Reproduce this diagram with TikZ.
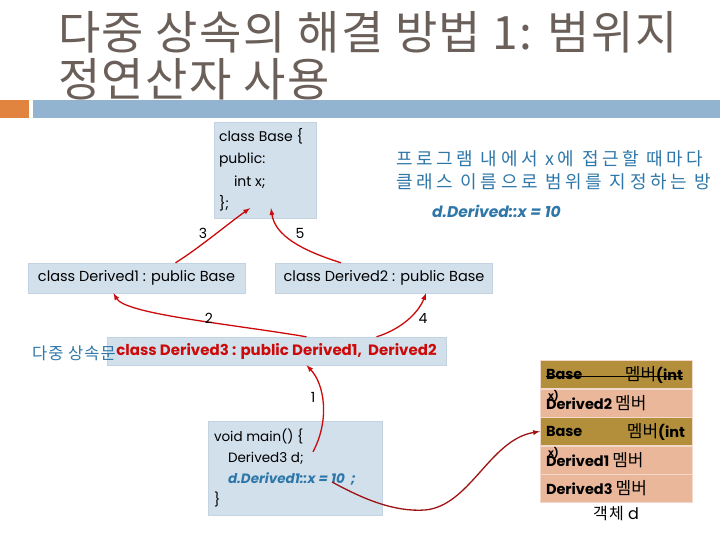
\documentclass[tikz,border=0pt]{standalone}
\usepackage{fontspec}
\usepackage{xcolor}
\setmainfont{Poppins}
\newfontfamily\krfont{Noto Sans CJK KR}
\usetikzlibrary{shapes,arrows,positioning,calc}

\definecolor{titlegray}{HTML}{6B5F5A}
\definecolor{markorange}{HTML}{E0843F}
\definecolor{barblue}{HTML}{93B4D0}
\definecolor{boxblue}{HTML}{D2E0EC}
\definecolor{boxline}{HTML}{C3D3E1}
\definecolor{noteteal}{HTML}{2E77A8}
\definecolor{arrowred}{HTML}{CC0A0A}
\definecolor{darkred}{HTML}{A01212}
\definecolor{rowolive}{HTML}{B38F3C}
\definecolor{rowsalmon}{HTML}{EBB79B}
\definecolor{rowline}{HTML}{F2D9CB}

\newcommand{\kr}[1]{{\krfont\mdseries #1}}

\begin{document}
\begin{tikzpicture}[x=1pt, y=-1pt,
  codebox/.style={draw=boxline, fill=boxblue, rectangle, inner sep=0pt},
  rowbox/.style={draw=rowline, rectangle, minimum width=152pt, minimum height=28pt, inner sep=0pt},
  rowtext/.style={anchor=west, inner sep=0pt, font=\bfseries\fontsize{14.5}{16}\selectfont},
  stepnum/.style={font=\fontsize{14}{16}\selectfont, text=black},
  inherit/.style={draw=arrowred, line width=1.3pt, -latex}]
\useasboundingbox (0,0) rectangle (720,540);

% title and bar
\node[anchor=base west, text=titlegray, inner sep=0pt,
  font=\krfont\fontsize{46}{50}\selectfont\addfontfeature{LetterSpace=3}] (title) at (58,50)
  {다중 상속의 해결 방법 1: 범위지};
\node[anchor=base west, text=titlegray, inner sep=0pt,
  font=\krfont\fontsize{46}{50}\selectfont\addfontfeature{LetterSpace=3}] (titletwo) at (58,97)
  {정연산자 사용};
\fill[markorange] (0,100) rectangle (29,118);
\node[fill=barblue, rectangle, minimum width=687pt, minimum height=18pt, inner sep=0pt,
  anchor=north west] (titlebar) at (33,100) {};

% class boxes
\node[codebox, minimum width=102pt, minimum height=96pt] (base) at (265,170) {
    \begin{minipage}{92pt}
    \fontsize{14}{22.5}\selectfont
    class Base \{\\
    public:\\
    \hspace*{15pt}int x;\\
    \};
    \end{minipage}
};
\node[codebox, minimum width=217pt, minimum height=30pt,
  font=\fontsize{14.5}{16}\selectfont] (derivedone) at (136.5,278) {class Derived1 : public Base};
\node[codebox, minimum width=217pt, minimum height=30pt,
  font=\fontsize{14.5}{16}\selectfont] (derivedtwo) at (384,278) {class Derived2 : public Base};
\node[codebox, minimum width=339pt, minimum height=28pt, text=arrowred,
  font=\bfseries\fontsize{15}{16}\selectfont] (derivedthree) at (276.5,351)
  {class Derived3 : public Derived1,\ \ Derived2};
\node[anchor=west, text=noteteal, inner sep=0pt,
  font=\krfont\fontsize{16.5}{18}\selectfont\addfontfeature{LetterSpace=6}] (multinote) at (32,353) {다중 상속문};

\node[codebox, minimum width=174pt, minimum height=94pt] (mainfn) at (295,468) {
    \begin{minipage}{162pt}
    \fontsize{13.5}{21}\selectfont
    void main() \{\\
    \hspace*{14pt}Derived3 d;\\
    \hspace*{14pt}{\color{noteteal}\bfseries\itshape d.Derived1::x = 10\ \ ;}\\
    \}
    \end{minipage}
};

% note
\node[anchor=north west, align=left, text=noteteal, inner sep=0pt,
  font=\krfont\fontsize{18}{23}\selectfont] (note) at (396,150)
  {\addfontfeature{LetterSpace=20}프로그램 내에서 x에 접근할 때마다\\
   \addfontfeature{LetterSpace=20}클래스 이름으로 범위를 지정하는 방};
\node[anchor=west, text=noteteal, inner sep=0pt,
  font=\bfseries\itshape\fontsize{15.5}{17}\selectfont] (noteex) at (432,211) {d.Derived::x = 10};

% object d
\node[rowbox, fill=rowolive] (rowbasea) at (616,374.5) {};
\node[rowbox, fill=rowsalmon] (rowdtwo) at (616,403) {};
\node[rowbox, fill=rowolive] (rowbaseb) at (616,431.5) {};
\node[rowbox, fill=rowsalmon] (rowdone) at (616,460) {};
\node[rowbox, fill=rowsalmon] (rowdthree) at (616,488) {};

\node[rowtext] (basealbl) at ([xshift=6pt]rowbasea.west) {Base};
\node[rowtext, anchor=east] (baseamem) at ([xshift=-9pt]rowbasea.east) {\kr{\fontsize{17}{18}\selectfont 멤버}(int};
\draw[line width=1.1pt] ([xshift=6pt,yshift=-2pt]rowbasea.west) -- ([yshift=-2pt]rowbasea.west -| baseamem.east);
\node[rowtext] at ([xshift=6pt]rowdtwo.west) {Derived2 \kr{\fontsize{17}{18}\selectfont 멤버}};
\node[anchor=north west, inner sep=0pt, font=\bfseries\fontsize{10}{10}\selectfont] at ([xshift=8pt,yshift=-1pt]rowdtwo.north west) {x)};
\node[rowtext] (baseblbl) at ([xshift=6pt]rowbaseb.west) {Base};
\node[rowtext, anchor=east] (basebmem) at ([xshift=-7pt]rowbaseb.east) {\kr{\fontsize{17}{18}\selectfont 멤버}(int};
\node[rowtext] at ([xshift=6pt]rowdone.west) {Derived1 \kr{\fontsize{17}{18}\selectfont 멤버}};
\node[anchor=north west, inner sep=0pt, font=\bfseries\fontsize{10}{10}\selectfont] at ([xshift=8pt,yshift=-1pt]rowdone.north west) {x)};
\node[rowtext] at ([xshift=6pt]rowdthree.west) {Derived3 \kr{\fontsize{17}{18}\selectfont 멤버}};
\node[font=\fontsize{16}{18}\selectfont] (objlabel) at (616,514) {\kr{\addfontfeature{LetterSpace=8}객체} d};

% inheritance arrows
\draw[inherit] ([xshift=39pt]derivedone.north) .. controls +(24,-15) and +(-20,14) .. ([xshift=-15pt,yshift=10pt]base.south);
\draw[inherit] ([xshift=-43pt]derivedtwo.north) .. controls +(-41,-13) and +(4,27) .. ([xshift=6pt,yshift=10pt]base.south);
\draw[inherit] ([xshift=30pt]derivedthree.north) .. controls +(-77,-13) and +(12,21) .. ([xshift=-23pt]derivedone.south);
\draw[inherit] ([xshift=100pt]derivedthree.north) .. controls +(29,-9) and +(-6,16) .. ([xshift=42pt]derivedtwo.south);
\draw[inherit] ([xshift=18pt,yshift=-31pt]mainfn.north) .. controls +(17,-32) and +(18,19) .. ([xshift=30pt]derivedthree.south);
\draw[draw=darkred, line width=1.3pt, -latex] ([xshift=37pt,yshift=-14pt]mainfn.center)
  .. controls +(33,18) and +(-30,2) .. (425,510)
  .. controls +(45,-4) and +(-50,8) .. (rowbaseb.west);

% step numbers
\node[stepnum] (numone) at (313,397) {1};
\node[stepnum] (numtwo) at (209,318) {2};
\node[stepnum] (numthree) at (203,233) {3};
\node[stepnum] (numfour) at (423,318) {4};
\node[stepnum] (numfive) at (300,233) {5};
\end{tikzpicture}
\end{document}
